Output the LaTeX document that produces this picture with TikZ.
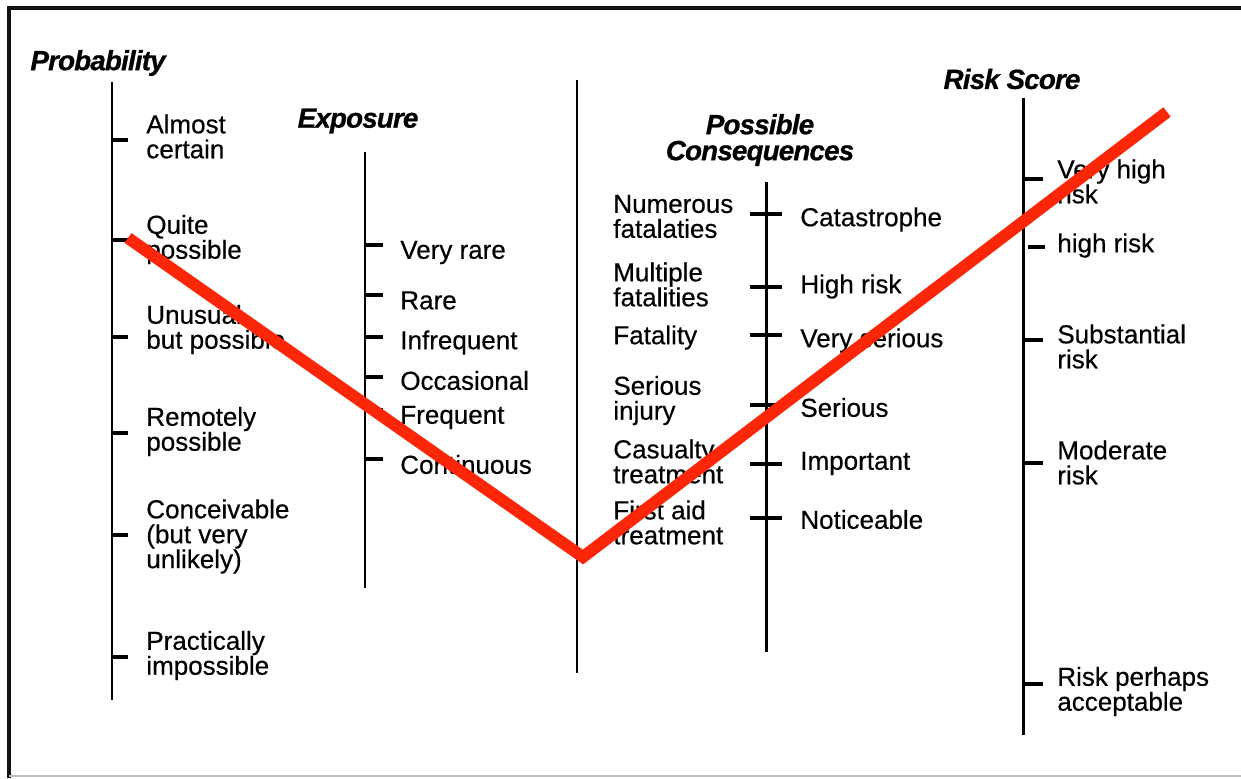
\documentclass[tikz,border=0pt]{standalone}
\usepackage{fontspec}
\setmainfont{Liberation Sans}
\newfontfamily\lblfont[FakeBold=0.4]{Liberation Sans}
\newfontfamily\titlefont[BoldItalicFeatures={FakeBold=0.8,LetterSpace=-3}]{Liberation Sans}
\usepackage{xcolor}
\definecolor{myred}{RGB}{252,38,8}
\definecolor{myframe}{HTML}{111111}

\begin{document}
\begin{tikzpicture}[
    x=0.02cm, y=-0.02cm,
    font=\lblfont\fontsize{14.8}{14.2}\selectfont,
    axis/.style={draw=black, line width=1.7pt},
    tick/.style={draw=black, line width=1.8pt},
    lbl/.style={anchor=west, align=left, inner sep=0pt, yshift=-2.5*0.02cm},
    title/.style={align=center, inner sep=0pt,
      font=\titlefont\fontsize{15.8}{14.8}\selectfont\bfseries\itshape},
    vline/.style={draw=myred, line width=6.8pt, line join=miter}
  ]
  % Rahmen
  \useasboundingbox (0,0) rectangle (1241,778);
  \fill[white] (0,0) rectangle (1241,778);
  \draw[myframe, line width=1.8pt] (9,778) -- (9,8) -- (1241,8);
  \draw[black!25, line width=0.6pt] (9,776) -- (1241,776);
  % Achsen
  \coordinate (probTop) at (112,82);   \coordinate (probBot) at (112,700);
  \coordinate (expoTop) at (365,152);  \coordinate (expoBot) at (365,588);
  \coordinate (tieTop)  at (577,80);   \coordinate (tieBot)  at (577,673);
  \coordinate (consTop) at (766,182);  \coordinate (consBot) at (766,652);
  \coordinate (riskTop) at (1023,98);  \coordinate (riskBot) at (1023,735);
  \draw[axis] (probTop) -- (probBot);
  \draw[axis] (expoTop) -- (expoBot);
  \draw[axis] (tieTop) -- (tieBot);
  \draw[axis] (consTop) -- (consBot);
  \draw[axis] (riskTop) -- (riskBot);
  % Titel
  \node[title] (tProb) at (98,63) {Probability};
  \node[title] (tExpo) at (358,121) {Exposure};
  \node[title] (tCons) at (760,140) {Possible\\Consequences};
  \node[title] (tRisk) at (1012,79) {Risk Score};
  % Probability
  \draw[tick] (112,140) -- ++(16,0);
  \draw[tick] (112,240) -- ++(16,0);
  \draw[tick] (112,337) -- ++(16,0);
  \draw[tick] (112,433) -- ++(16,0);
  \draw[tick] (112,535) -- ++(16,0);
  \draw[tick] (112,657) -- ++(16,0);
  \node[lbl] (pAlmost) at (146,134) {Almost\\certain};
  \node[lbl] (pQuite)  at (146,237) {Quite\\possible};
  \node[lbl] (pUnusual) at (146,327) {Unusual\\but possible};
  \node[lbl] (pRemote) at (146,429) {Remotely\\possible};
  \node[lbl] (pConceiv) at (146,534) {Conceivable\\(but very\\unlikely)};
  \node[lbl] (pPract) at (146,653) {Practically\\impossible};
  % Exposure
  \draw[tick] (365,245) -- ++(18,0);
  \draw[tick] (365,295) -- ++(18,0);
  \draw[tick] (365,337) -- ++(18,0);
  \draw[tick] (365,377) -- ++(18,0);
  \draw[tick] (365,410) -- ++(18,0);
  \draw[tick] (365,459) -- ++(18,0);
  \node[lbl] (eVrare) at (400,250) {Very rare};
  \node[lbl] (eRare) at (400,298) {Rare};
  \node[lbl] (eInfreq) at (400,340) {Infrequent};
  \node[lbl] (eOccas) at (400,378) {Occasional};
  \node[lbl] (eFreq) at (400,415) {Frequent};
  \node[lbl] (eCont) at (400,462) {Continuous};
  % Possible Consequences
  \draw[tick] (750,214) -- (782,214);
  \draw[tick] (750,287) -- (782,287);
  \draw[tick] (750,335) -- (782,335);
  \draw[tick] (750,405) -- (782,405);
  \draw[tick] (750,464) -- (782,464);
  \draw[tick] (750,518) -- (782,518);
  \node[lbl] (cNumerous) at (613,214) {Numerous\\fatalaties};
  \node[lbl] (cMultiple) at (613,282) {Multiple\\fatalities};
  \node[lbl] (cFatality) at (613,335) {Fatality};
  \node[lbl] (cInjury) at (613,398) {Serious\\injury};
  \node[lbl] (cCasualty) at (613,459) {Casualty\\treatment};
  \node[lbl] (cFirstaid) at (613,520) {First aid\\treatment};
  \node[lbl] (cCatas) at (800,217) {Catastrophe};
  \node[lbl] (cHigh) at (800,284) {High risk};
  \node[lbl] (cVserious) at (800,338) {Very serious};
  \node[lbl] (cSerious) at (800,405) {Serious};
  \node[lbl] (cImport) at (800,461) {Important};
  \node[lbl] (cNotice) at (800,517) {Noticeable};
  % Risk Score
  \draw[tick] (1023,179) -- ++(20,0);
  \draw[tick] (1028,247) -- ++(17,0);
  \draw[tick] (1023,340) -- ++(20,0);
  \draw[tick] (1023,463) -- ++(20,0);
  \draw[tick] (1023,684) -- ++(20,0);
  \node[lbl] (rVhigh) at (1057,179) {Very high\\risk};
  \node[lbl] (rHigh) at (1057,243) {high risk};
  \node[lbl] (rSubst) at (1057,344) {Substantial\\risk};
  \node[lbl] (rModer) at (1057,460) {Moderate\\risk};
  \node[lbl] (rAccept) at (1057,689) {Risk perhaps\\acceptable};
  % Verbindungslinie
  \coordinate (vStart) at (128,238);
  \coordinate (vTip) at (583,557);
  \coordinate (vEnd) at (1167,112);
  \draw[vline] (vStart) -- (vTip) -- (vEnd);
\end{tikzpicture}
\end{document}
